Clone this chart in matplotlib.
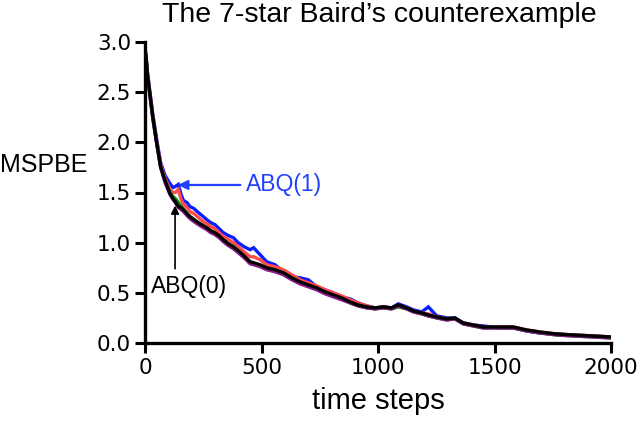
import matplotlib
matplotlib.use("Agg")
import matplotlib.pyplot as plt

# ── Data (MSPBE vs time steps) ───────────────────────────────────────────────
steps = [0, 5, 10, 20, 33, 50, 67, 86, 107, 120, 130, 143, 155, 165, 180, 193,
         210, 229, 250, 265, 282, 300, 318, 336, 358, 379, 400, 425, 451, 466,
         494, 522, 558, 594, 630, 665, 701, 737, 773, 808, 844, 880, 914, 951,
         987, 1023, 1058, 1087, 1123, 1152, 1188, 1216, 1252, 1295, 1330, 1366,
         1409, 1452, 1523, 1581, 1638, 1695, 1767, 1838, 1924, 2000]

mspbe_black = [2.93, 2.84, 2.69, 2.50, 2.26, 2.00, 1.76, 1.62, 1.49, 1.44, 1.41,
               1.36, 1.35, 1.33, 1.29, 1.26, 1.23, 1.20, 1.17, 1.15, 1.12, 1.10,
               1.07, 1.03, 0.99, 0.96, 0.92, 0.87, 0.81, 0.80, 0.78, 0.75, 0.73,
               0.70, 0.65, 0.61, 0.58, 0.55, 0.51, 0.48, 0.45, 0.41, 0.38, 0.36,
               0.35, 0.36, 0.35, 0.38, 0.35, 0.32, 0.30, 0.28, 0.26, 0.24, 0.25,
               0.20, 0.18, 0.16, 0.16, 0.16, 0.13, 0.11, 0.09, 0.08, 0.07, 0.06]

mspbe_blue = [2.93, 2.85, 2.71, 2.52, 2.29, 2.03, 1.80, 1.67, 1.59, 1.55, 1.56,
              1.58, 1.48, 1.42, 1.40, 1.36, 1.34, 1.30, 1.26, 1.23, 1.20, 1.18,
              1.14, 1.10, 1.07, 1.05, 1.00, 0.96, 0.93, 0.95, 0.88, 0.81, 0.78,
              0.71, 0.66, 0.65, 0.63, 0.56, 0.53, 0.50, 0.46, 0.44, 0.40, 0.37,
              0.35, 0.36, 0.35, 0.39, 0.36, 0.33, 0.31, 0.36, 0.27, 0.25, 0.25,
              0.20, 0.18, 0.17, 0.15, 0.15, 0.12, 0.10, 0.09, 0.08, 0.07, 0.06]

mspbe_red = [2.93, 2.84, 2.70, 2.51, 2.27, 2.01, 1.78, 1.64, 1.53, 1.50, 1.50,
             1.53, 1.43, 1.38, 1.35, 1.31, 1.29, 1.25, 1.21, 1.19, 1.16, 1.14,
             1.10, 1.06, 1.03, 1.00, 0.96, 0.91, 0.86, 0.86, 0.83, 0.78, 0.76,
             0.73, 0.68, 0.63, 0.60, 0.57, 0.53, 0.50, 0.47, 0.43, 0.40, 0.37,
             0.35, 0.36, 0.35, 0.37, 0.35, 0.32, 0.30, 0.29, 0.26, 0.24, 0.24,
             0.20, 0.18, 0.16, 0.16, 0.16, 0.13, 0.11, 0.09, 0.08, 0.07, 0.06]

mspbe_green = [2.93, 2.83, 2.68, 2.49, 2.25, 1.99, 1.75, 1.61, 1.50, 1.46, 1.44,
               1.40, 1.36, 1.33, 1.29, 1.26, 1.23, 1.19, 1.16, 1.14, 1.11, 1.09,
               1.06, 1.02, 0.98, 0.95, 0.91, 0.86, 0.80, 0.79, 0.77, 0.74, 0.72,
               0.69, 0.64, 0.60, 0.57, 0.54, 0.50, 0.47, 0.44, 0.40, 0.37, 0.35,
               0.34, 0.35, 0.34, 0.36, 0.34, 0.31, 0.29, 0.27, 0.25, 0.23, 0.24,
               0.19, 0.17, 0.15, 0.15, 0.15, 0.12, 0.10, 0.08, 0.07, 0.06, 0.05]

mspbe_purple = [2.92, 2.83, 2.68, 2.49, 2.25, 1.99, 1.75, 1.60, 1.48, 1.43, 1.40,
                1.35, 1.33, 1.31, 1.27, 1.24, 1.21, 1.18, 1.15, 1.13, 1.10, 1.08,
                1.05, 1.01, 0.97, 0.94, 0.90, 0.85, 0.79, 0.78, 0.76, 0.73, 0.71,
                0.68, 0.63, 0.59, 0.56, 0.53, 0.49, 0.46, 0.43, 0.40, 0.37, 0.35,
                0.34, 0.35, 0.34, 0.37, 0.34, 0.31, 0.29, 0.27, 0.25, 0.23, 0.24,
                0.19, 0.17, 0.15, 0.15, 0.15, 0.12, 0.10, 0.08, 0.07, 0.06, 0.05]

series = [
    (mspbe_blue,   "#0a1eff"),
    (mspbe_red,    "#ff4a4a"),
    (mspbe_green,  "#0a8a0a"),
    (mspbe_purple, "#8a1a8a"),
    (mspbe_black,  "#000000"),
]

x_ticks = [0, 500, 1000, 1500, 2000]
y_ticks = [0.0, 0.5, 1.0, 1.5, 2.0, 2.5, 3.0]

TEXT_FONT = ["Liberation Sans", "DejaVu Sans"]
BLUE_TXT = "#2040ff"

# ── Figure ───────────────────────────────────────────────────────────────────
fig = plt.figure(figsize=(6.4, 4.21), dpi=100)
ax = fig.add_axes([145 / 640, 1 - 343 / 421, 466 / 640, 301 / 421])

for vals, col in series:
    ax.plot(steps, vals, color=col, linewidth=2.4, solid_joinstyle="miter")

ax.set_xlim(0, 2000)
ax.set_ylim(0, 3.0)
ax.set_xticks(x_ticks)
ax.set_yticks(y_ticks)
ax.set_yticklabels([f"{v:.1f}" for v in y_ticks])

ax.spines[["top", "right"]].set_visible(False)
for side in ["left", "bottom"]:
    ax.spines[side].set_linewidth(2.4)
ax.tick_params(axis="both", direction="out", length=7, width=2.2,
               labelsize=15.5)
ax.tick_params(axis="y", pad=3)
ax.tick_params(axis="x", pad=4)

ax.set_xlabel("time steps", fontsize=21, family=TEXT_FONT, labelpad=6)

fig.text(0, 1 - 165 / 421, "MSPBE", fontsize=18, family=TEXT_FONT,
         ha="left", va="center")
fig.text(379 / 640, 1 - 22 / 421, "The 7-star Baird\u2019s counterexample",
         fontsize=20.5, family=TEXT_FONT, ha="center", va="baseline")

# ── Annotations ──────────────────────────────────────────────────────────────
ax.annotate("ABQ(1)", xy=(142, 1.575), xytext=(433, 1.575),
            fontsize=16.5, family=TEXT_FONT, color=BLUE_TXT,
            ha="left", va="center",
            arrowprops=dict(arrowstyle="-|>", color=BLUE_TXT, lw=1.6,
                            mutation_scale=14, shrinkA=2, shrinkB=0))

ax.annotate("", xy=(129, 1.37), xytext=(129, 0.74),
            arrowprops=dict(arrowstyle="-|>", color="black", lw=1.2,
                            mutation_scale=12, shrinkA=0, shrinkB=0))
ax.text(189, 0.56, "ABQ(0)", fontsize=16.5, family=TEXT_FONT,
        ha="center", va="center")

fig.savefig("out.png", dpi=100)
